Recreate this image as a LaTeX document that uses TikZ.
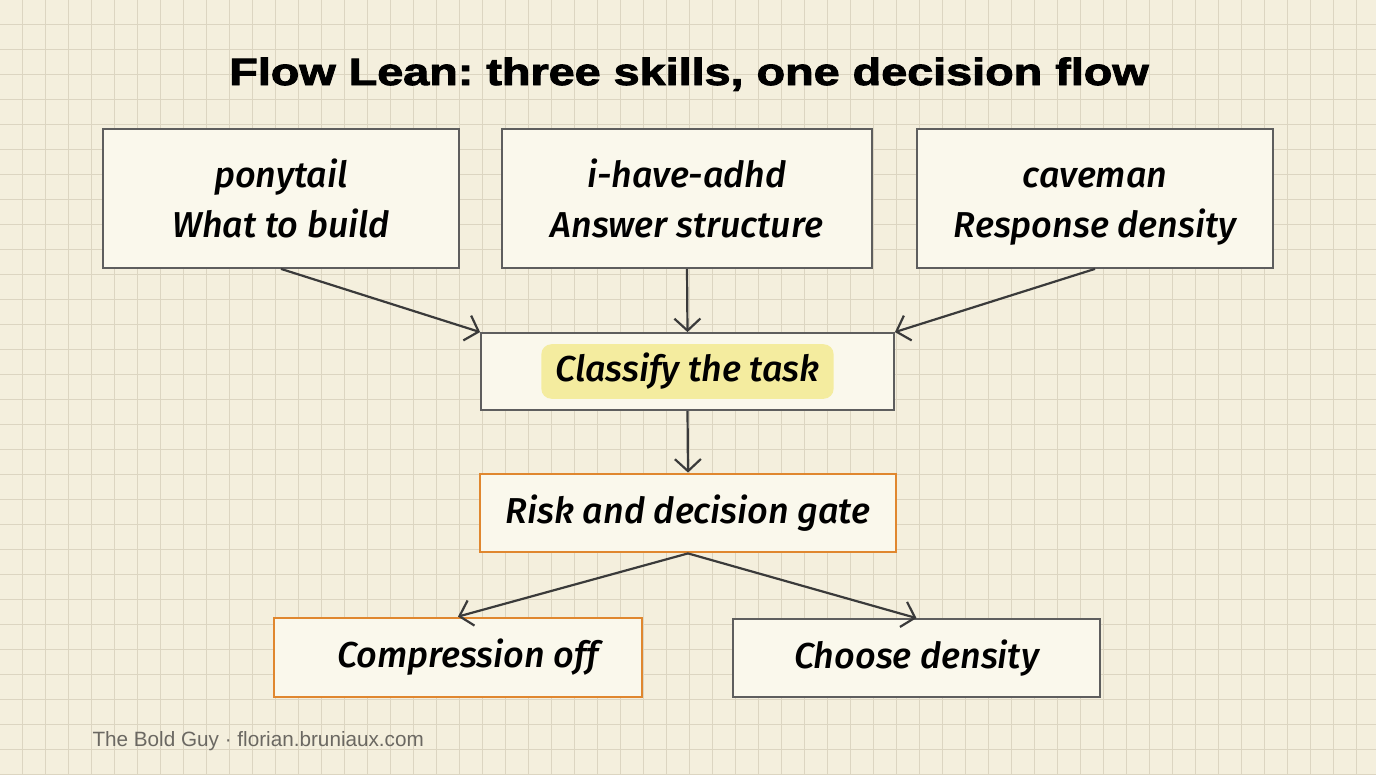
\documentclass[tikz,border=0pt]{standalone}
\usepackage{fontspec}
\usetikzlibrary{arrows.meta,calc}
\setmainfont{Fira Sans}
\newfontfamily\titlefont[FakeBold=2.2]{Liberation Sans Bold}
\newfontfamily\footfont{Liberation Sans}
\newfontfamily\handfont{Fira Sans Medium Italic}
\definecolor{bgc}{HTML}{F4EFDD}
\definecolor{gridc}{HTML}{DCD5C1}
\definecolor{boxfill}{HTML}{FAF8EC}
\definecolor{boxline}{HTML}{5E5E5E}
\definecolor{orangec}{HTML}{E0872F}
\definecolor{arrowc}{HTML}{3A3A3A}
\definecolor{hlc}{HTML}{F4EC9F}
\definecolor{footc}{HTML}{6B6862}
\newcommand{\topstrut}{\rule{0pt}{43pt}}
\frenchspacing
\tikzset{
  box/.style={draw=boxline, line width=1.8pt, fill=boxfill, inner sep=0pt,
    align=center, font=\handfont\fontsize{36}{50}\selectfont},
  gatebox/.style={box, draw=orangec, line width=2.8pt},
  conn/.style={draw=arrowc, line width=2.2pt, -{Straight Barb[length=12pt,width=26pt,line width=2.2pt]}},
  hlbox/.style={fill=hlc, rounded corners=10pt, inner xsep=14pt, inner ysep=9pt,
    font=\handfont\fontsize{36}{40}\selectfont},
}
\begin{document}
\begin{tikzpicture}[x=1pt,y=-1pt]
\fill[bgc] (0,0) rectangle (1376,774);
\useasboundingbox (0,0) rectangle (1376,774);
\foreach \i in {0,...,59} \draw[gridc, line width=1pt] (22.3+23*\i,0) -- ++(0,774);
\foreach \j in {0,...,30} \draw[gridc, line width=1pt] (0,24+25*\j) -- ++(1376,0);

\node[anchor=base, xscale=1.23, font=\titlefont\fontsize{38}{40}\selectfont\frenchspacing] (title) at (689,85) {Flow Lean: three skills, one decision flow};

\node[box, minimum width=356pt, minimum height=139pt] (b1) at (281,198.5) {\topstrut ponytail\\\strut What to build};
\node[box, minimum width=370pt, minimum height=139pt] (b2) at (687,198.5) {\topstrut i-have-adhd\\\strut Answer structure};
\node[box, minimum width=356pt, minimum height=139pt] (b3) at (1095,198.5) {\topstrut caveman\\\strut Response density};

\node[box, minimum width=413pt, minimum height=77pt] (cls) at (687.5,371.5) {};
\node[hlbox] (hl) at (cls.center) {Classify the task};

\node[gatebox, minimum width=416pt, minimum height=78pt] (risk) at (688,513) {Risk and decision gate};
\node[gatebox, minimum width=368pt, minimum height=79pt] (comp) at (458,657.5) {\hspace*{20pt}Compression off};
\node[box, minimum width=367pt, minimum height=78pt] (dens) at (916.5,658) {Choose density};

\draw[conn] (b1.south) -- (cls.north west);
\draw[conn] (b2.south) -- (cls.north);
\draw[conn] (b3.south) -- (cls.north east);
\draw[conn] (cls.south) -- (risk.north);
\draw[conn] (risk.south) -- (comp.north);
\draw[conn] (risk.south) -- (dens.north);

\node[anchor=base west, text=footc, font=\footfont\fontsize{20.7}{24}\selectfont] (foot) at (89,746) {The Bold Guy · florian.bruniaux.com};
\end{tikzpicture}
\end{document}
